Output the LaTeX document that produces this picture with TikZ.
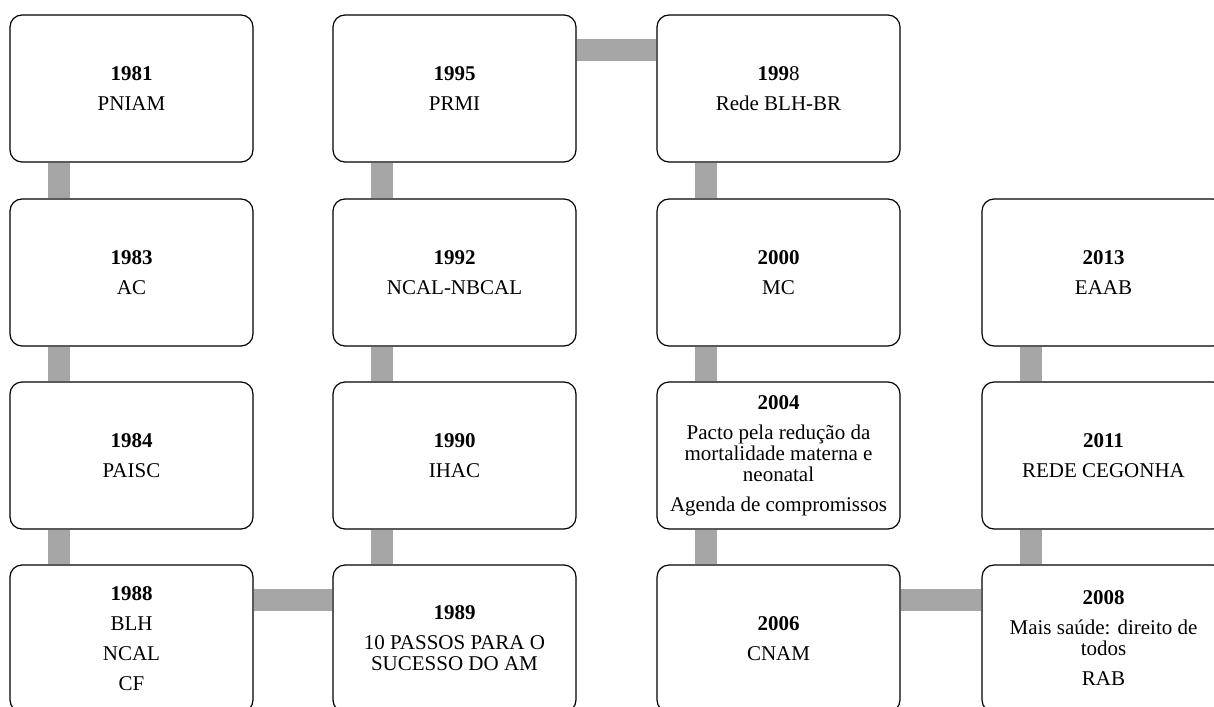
\documentclass[tikz,border=0pt]{standalone}
\usepackage{fontspec}
\setmainfont{Liberation Serif}
\usetikzlibrary{positioning,backgrounds}
\definecolor{barGray}{HTML}{A6A6A6}

\begin{document}
\begin{tikzpicture}[x=1pt,y=-1pt]
    \tikzstyle{every node} = [draw,shape=rectangle,rounded corners=12pt,fill=white,line width=1.2pt,minimum width=243pt,minimum height=147pt,inner sep=0pt,align=center,font=\fontsize{21}{21}\selectfont]
    \tikzstyle{bar} = [draw=barGray,line width=22pt]
    \useasboundingbox (0,0) rectangle (1214,706);
    \clip (0,0) rectangle (1214,706);

    % column 1
    \node (y1981) at (131.5,88.5) {\textbf{1981}\\[9pt]PNIAM};
    \node (y1983) at (131.5,272.5) {\textbf{1983}\\[9pt]AC};
    \node (y1984) at (131.5,455.5) {\textbf{1984}\\[9pt]PAISC};
    \node (y1988) at (131.5,638.5) {\textbf{1988}\\[9pt]BLH\\[9pt]NCAL\\[9pt]CF};

    % column 2
    \node (y1995) at (454.5,88.5) {\textbf{1995}\\[9pt]PRMI};
    \node (y1992) at (454.5,272.5) {\textbf{1992}\\[9pt]NCAL-NBCAL};
    \node (y1990) at (454.5,455.5) {\textbf{1990}\\[9pt]IHAC};
    \node (y1989) at (454.5,638.5) {\textbf{1989}\\[9pt]10 PASSOS PARA O\\SUCESSO DO AM};

    % column 3
    \node (y1998) at (778.5,88.5) {\textbf{199}8\\[9pt]Rede BLH-BR};
    \node (y2000) at (778.5,272.5) {\textbf{2000}\\[9pt]MC};
    \node (y2004) at (778.5,455.5) {\textbf{2004}\\[9pt]Pacto pela redução da\\mortalidade materna e\\neonatal\\[9pt]Agenda de compromissos};
    \node (y2006) at (778.5,638.5) {\textbf{2006}\\[9pt]CNAM};

    % column 4
    \node (y2013) at (1103.5,272.5) {\textbf{2013}\\[9pt]EAAB};
    \node (y2011) at (1103.5,455.5) {\textbf{2011}\\[9pt]REDE CEGONHA};
    \node (y2008) at (1103.5,638.5) {\textbf{2008}\\[9pt]Mais saúde: direito de\\todos\\[9pt]RAB};

    \begin{scope}[on background layer]
    \draw [bar] ([xshift=50pt]y1981.south west) -- ([xshift=50pt]y1983.north west);
    \draw [bar] ([xshift=50pt]y1983.south west) -- ([xshift=50pt]y1984.north west);
    \draw [bar] ([xshift=50pt]y1984.south west) -- ([xshift=50pt]y1988.north west);
    \draw [bar] ([yshift=-36pt]y1988.north east) -- ([yshift=-36pt]y1989.north west);
    \draw [bar] ([xshift=50pt]y1989.north west) -- ([xshift=50pt]y1990.south west);
    \draw [bar] ([xshift=50pt]y1990.north west) -- ([xshift=50pt]y1992.south west);
    \draw [bar] ([xshift=50pt]y1992.north west) -- ([xshift=50pt]y1995.south west);
    \draw [bar] ([yshift=-36pt]y1995.north east) -- ([yshift=-36pt]y1998.north west);
    \draw [bar] ([xshift=50pt]y1998.south west) -- ([xshift=50pt]y2000.north west);
    \draw [bar] ([xshift=50pt]y2000.south west) -- ([xshift=50pt]y2004.north west);
    \draw [bar] ([xshift=50pt]y2004.south west) -- ([xshift=50pt]y2006.north west);
    \draw [bar] ([yshift=-36pt]y2006.north east) -- ([yshift=-36pt]y2008.north west);
    \draw [bar] ([xshift=50pt]y2008.north west) -- ([xshift=50pt]y2011.south west);
    \draw [bar] ([xshift=50pt]y2011.north west) -- ([xshift=50pt]y2013.south west);
    \end{scope}
\end{tikzpicture}
\end{document}
